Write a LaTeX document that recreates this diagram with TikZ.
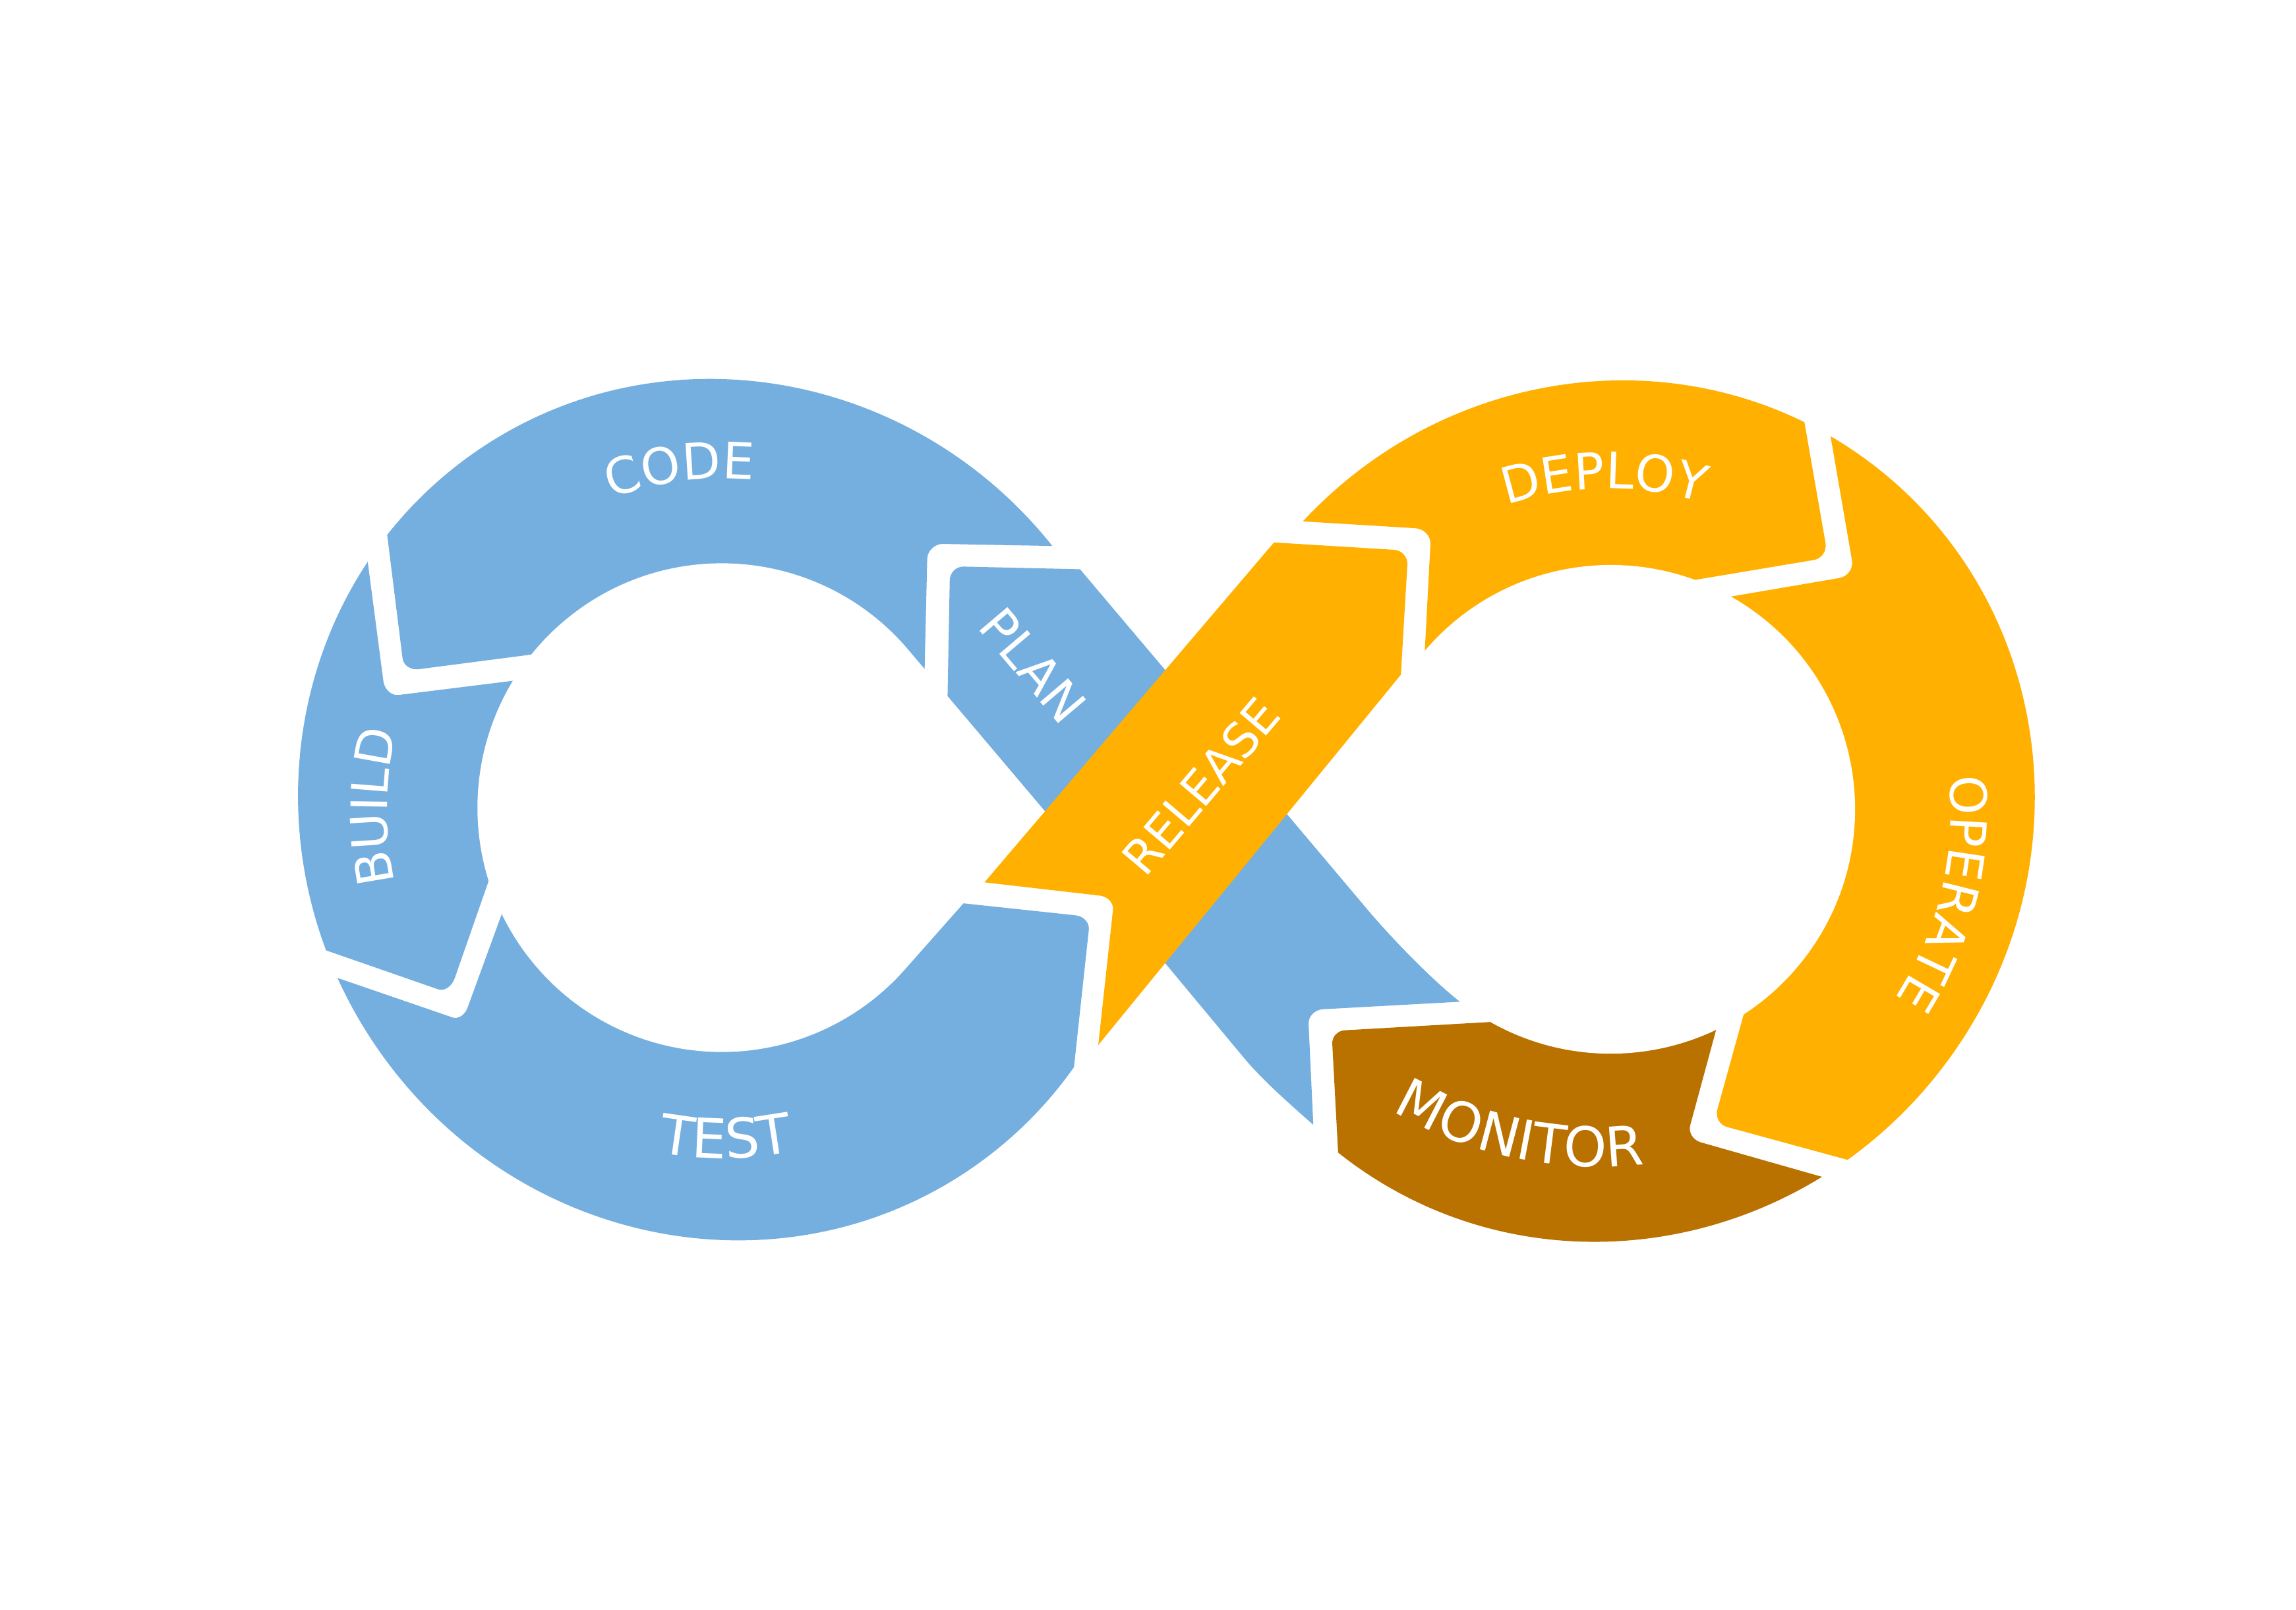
\documentclass[tikz,border=0pt]{standalone}
\usepackage{fontspec}
\setmainfont{DejaVu Sans}
\usetikzlibrary{calc,decorations.text}
\definecolor{devblue}{RGB}{117,175,224}
\definecolor{devorange}{RGB}{255,176,0}
\definecolor{devbrown}{RGB}{185,113,0}
\newcommand{\ringfont}{\fontsize{9.7}{11.6}\selectfont}
\newcommand{\lowfont}{\fontsize{10.6}{12.7}\selectfont}
\newcommand{\rc}[3]{-- #1 .. controls ($#1!0.55!#2$) and ($#3!0.55!#2$) .. #3}
\tikzstyle{lbl}=[text=white,font=\ringfont,inner sep=0pt]
\tikzstyle{ringtext}=[decorate,decoration={text along path,text color=white,text align=center}]
\tikzstyle{leftring}=[rotate around={-54:(LO)}]
\tikzstyle{rightring}=[rotate around={54:(RO)}]

\begin{document}
\begin{tikzpicture}[x=0.01cm,y=-0.01cm]
	\fill[white] (0,0) rectangle (1560,1093.7);
	\useasboundingbox (0,0) rectangle (1560,1093.7);
	\coordinate (LO) at (492,550);
	\coordinate (LI) at (490,549);
	\coordinate (RO) at (1093,551);
	\coordinate (RI) at (1095,549);
	\coordinate (MC) at (1085,520);
	\begin{scope}
		\clip (LI) -- (420,437) \rc{(284.4,454.6)}{(274.6,455.9)}{(273.5,447.1)} -- (255.4,301.8) -- (200,150) -- (780,150) -- (790,372.3) \rc{(640.5,369.5)}{(630.8,369.5)}{(630,379.2)} -- (626.9,510) -- cycle;
		\fill[devblue,leftring] (LO) ellipse[x radius=296,y radius=286];
	\end{scope}
	\begin{scope}
		\clip (LI) -- (420,453.6) \rc{(271,472.1)}{(261.9,473.2)}{(260.5,462.8)} -- (241.8,320.4) -- (100,320) -- (100,620) -- (163.1,625.3) \rc{(297.8,672.1)}{(305.4,674.7)}{(309,664.4)} -- (349.7,547.7) -- cycle;
		\fill[devblue,leftring] (LO) ellipse[x radius=296,y radius=286];
	\end{scope}
	\begin{scope}
		\clip (LI) -- (359.4,570.3) \rc{(317.7,684.5)}{(314.4,693.6)}{(307.5,691.2)} -- (170.4,644.1) -- (100,650) -- (100,950) -- (800,950) -- (720.7,808.1) \rc{(739.8,631.5)}{(740.7,622.9)}{(730.8,621.8)} -- (607.2,608.6) -- cycle;
		\fill[devblue,leftring] (LO) ellipse[x radius=296,y radius=286];
	\end{scope}
	\begin{scope}
		\clip (RI) -- (966.1,479.6) \rc{(971.9,369.5)}{(972.4,359.5)}{(961.5,358.8)} -- (819.4,350.2) -- (800,150) -- (1215,150) -- (1215.4,226.1) \rc{(1240.3,368.8)}{(1242,378.8)}{(1232.4,380.4)} -- (1118.4,399.5) -- cycle;
		\fill[devorange,rightring] (RO) ellipse[x radius=296,y radius=286];
	\end{scope}
	\begin{scope}
		\clip (RI) -- (1142.3,411) \rc{(1249.6,392.7)}{(1260.1,390.9)}{(1258.3,380.7)} -- (1233.4,236.2) -- (1233,150) -- (1500,150) -- (1500,900) -- (1311.7,803.3) \rc{(1173.5,765.6)}{(1164.3,763.1)}{(1166.8,753.9)} -- (1197.3,643.7) -- cycle;
		\fill[devorange,rightring] (RO) ellipse[x radius=296,y radius=286];
	\end{scope}
	\begin{scope}
		\clip (RI) -- (1178,655.3) \rc{(1148.4,764.4)}{(1146,773.3)}{(1155.5,776)} -- (1293.9,815.4) -- (1300,1000) -- (850,1000) -- (912.1,837.4) \rc{(905.2,709.1)}{(904.7,700.4)}{(913.7,699.9)} -- (1054.4,691.9) -- cycle;
		\fill[devbrown,rightring] (RO) ellipse[x radius=296,y radius=286];
	\end{scope}
	\fill[devblue] (733.8,386.7) -- (929.4,618.1) .. controls (945.6,637.2) and (972.4,665.1) .. (992.1,680.5) \rc{(898.8,685.6)}{(888.6,686.2)}{(889.1,695.7)} -- (892.3,764.1) .. controls (877.3,750.9) and (857.8,733.8) .. (845,718.4) -- (792,654.7) -- (709.9,551.1) -- (643.8,473) \rc{(645.3,394.1)}{(645.5,384.7)}{(654.7,384.9)} -- cycle;
	\fill[devorange] (865.6,368.5) -- (668.9,599.4) \rc{(747.2,608.4)}{(757.1,609.5)}{(756.2,618.1)} -- (746.2,709.9) -- (951.8,458.3) \rc{(956.2,383.7)}{(956.8,374.1)}{(947.3,373.5)} -- cycle;
	\fill[white] (709.9,551.1) -- (617.1,441.4) arc[start angle=-40.25,end angle=-318.45,radius=166] -- cycle;
	\fill[white] (874.9,553.3) -- (929.4,618.1) .. controls (945.6,637.2) and (972.4,665.1) .. (992.1,680.5) arc[start angle=128.05,end angle=-140.1,radius=166] -- cycle;
	\node[lbl,rotate=-49.7] (plan) at (702,452) {PLAN};
	\node[lbl,rotate=49.7,font=\fontsize{9.2}{11}\selectfont] (release) at (816,534) {RELEASE};
	\path[ringtext,decoration={text={|\ringfont|CODE}}] ($(LO)+(-127.4:225)$) arc[start angle=-127.4,end angle=-67.4,radius=225];
	\path[ringtext,decoration={text={|\ringfont|BUILD}}] ($(LO)+(150.5:229)$) arc[start angle=150.5,end angle=210.5,radius=229];
	\path[ringtext,decoration={text={|\lowfont|TEST}}] ($(LO)+(119.7:237)$) arc[start angle=119.7,end angle=59.7,radius=237];
	\path[ringtext,decoration={text={|\ringfont|DEPLOY}}] ($(RO)+(-120.8:219)$) arc[start angle=-120.8,end angle=-60.8,radius=219];
	\path[ringtext,decoration={text={|\ringfont|OPERATE}}] ($(RO)+(-16.3:232.5)$) arc[start angle=-16.3,end angle=43.7,radius=232.5];
	\path[ringtext,decoration={text={|\lowfont|MONITOR}}] ($(MC)+(131.9:272.6)$) arc[start angle=131.9,end angle=71.9,radius=272.6];
\end{tikzpicture}
\end{document}
